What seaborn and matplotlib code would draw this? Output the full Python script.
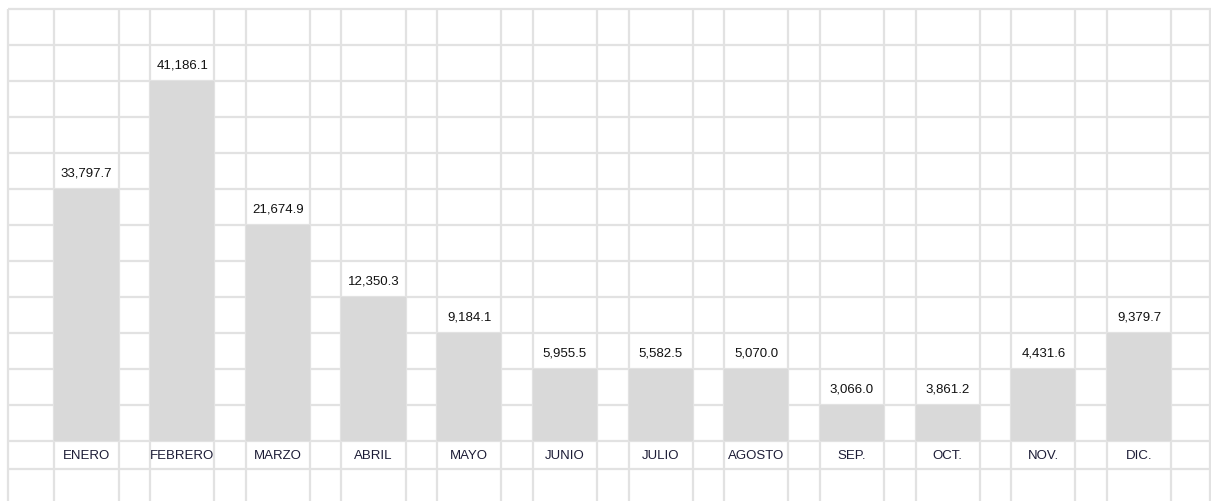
import numpy as np
import seaborn as sns
import matplotlib.pyplot as plt

sns.set_theme(style="white")
plt.rcParams['font.family'] = ['Liberation Sans', 'DejaVu Sans']

meses = ["ENERO", "FEBRERO", "MARZO", "ABRIL", "MAYO", "JUNIO", "JULIO",
         "AGOSTO", "SEP.", "OCT.", "NOV.", "DIC."]
valores = [33797.7, 41186.1, 21674.9, 12350.3, 9184.1, 5955.5, 5582.5,
           5070.0, 3066.0, 3861.2, 4431.6, 9379.7]
# alto de cada barra en celdas de la hoja
filas = [7, 10, 6, 4, 3, 2, 2, 2, 1, 1, 2, 3]

fig = plt.figure(figsize=(12.11, 5.02), dpi=100)
ax = fig.add_axes([0, 0, 1, 1])

ancho = 0.67
px_x = 95.68   # pixeles por categoria
px_y = 36.0    # pixeles por fila
xlim = (-86.5 / px_x, 11 + (1211 - 1139) / px_x)
ylim = (-(502 - 442) / px_y, 442 / px_y)

# cuadricula tipo hoja de calculo
gris = '#e2e2e2'
x_izq = (8 - 86.5) / px_x
x_der = (1210 - 86.5) / px_x
y_top = 12
y_lbl = -28 / px_y
for f in list(range(0, 13)) + [y_lbl]:
    ax.hlines(f, x_izq, xlim[1], color=gris, lw=1.6, zorder=0)
cols = [x_izq, x_der]
for i in range(len(meses)):
    cols += [i - ancho / 2, i + ancho / 2]
for c in cols:
    ax.vlines(c, ylim[0], y_top, color=gris, lw=1.6, zorder=0)

sns.barplot(x=meses, y=filas, color='#d9d9d9', saturation=1, width=ancho,
            linewidth=0, ax=ax, zorder=2)

for i, (v, f) in enumerate(zip(valores, filas)):
    ax.text(i, f + 0.45, f"{v:,.1f}", ha='center', va='center',
            fontsize=9.5, color='#111111', zorder=3)
    ax.text(i, y_lbl / 2, meses[i], ha='center', va='center',
            fontsize=9.5, color='#1c1c36', zorder=3)

ax.set_xlim(*xlim)
ax.set_ylim(*ylim)
ax.set_xticks([])
ax.set_yticks([])
ax.set_xlabel("")
ax.set_ylabel("")
for s in ax.spines.values():
    s.set_visible(False)

fig.savefig("out.png", dpi=100, facecolor='white')
